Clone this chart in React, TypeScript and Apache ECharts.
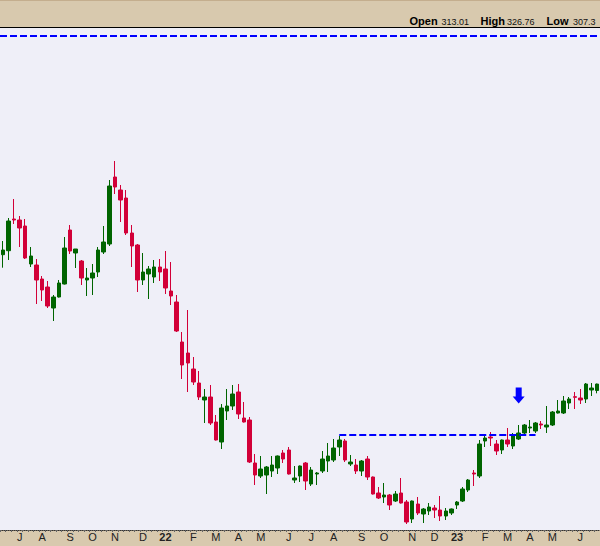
import React, { useEffect, useRef } from "react";
import * as echarts from "echarts";

// Weekly bars, first week starting Monday 2021-06-14
const FIRST_WEEK_UTC = Date.UTC(2021, 5, 14);

const OPEN = [
  584.6, 592.6, 656, 654, 642, 566, 564, 536, 520, 478,
  500, 526, 634, 588, 572, 534, 538, 550, 590, 606,
  740, 714, 698, 628, 604, 534, 546, 540, 560, 556,
  512, 490, 410, 388, 356, 328, 294, 300, 250, 210,
  272, 282, 310, 258, 254, 168, 142, 144, 152, 158,
  188, 194, 134, 142, 168, 126, 146, 152, 172, 174,
  200, 212, 166, 164, 152, 176, 140, 108, 100, 104,
  92, 108, 90, 56, 86, 66, 72, 78, 74, 62,
  68, 84, 92, 114, 148, 142, 212, 220, 206, 194,
  214, 202, 216, 228, 238, 232, 246, 240, 244, 268,
  268, 288, 300.6, 298, 296, 314, 313.01,
];
const CLOSE = [
  594, 652, 654, 638, 578, 582, 534, 514, 482, 500,
  528, 598, 592, 596, 538, 538, 548, 594, 610, 722,
  720, 694, 628, 602, 534, 550, 556, 560, 550, 518,
  502, 432, 364, 368, 330, 300, 300, 248, 214, 278,
  282, 306, 266, 250, 170, 144, 156, 160, 164, 182,
  176, 146, 138, 162, 132, 154, 148, 176, 182, 198,
  214, 174, 170, 152, 172, 140, 106, 98, 104, 84,
  106, 88, 50, 92, 68, 76, 80, 74, 62, 72,
  76, 90, 116, 134, 146, 206, 218, 218, 192, 214,
  206, 224, 228, 244, 240, 248, 244, 244, 270, 272,
  292, 296, 299.4, 294, 326, 318, 325.9,
];
const LOW = [
  558.6, 574, 646, 600, 576, 560, 486, 492, 478, 452,
  499, 525, 586, 558, 524, 502, 504, 540, 586, 602,
  706, 650, 624, 560, 510, 524, 496, 528, 532, 506,
  484, 430, 336, 310, 324, 294, 248, 244, 213, 196,
  254, 274, 256, 249, 168, 124, 138, 106, 140, 146,
  168, 145, 128, 130, 114, 122, 124, 148, 150, 170,
  182, 170, 162, 146, 142, 134, 105, 96, 88, 74,
  90, 87, 46, 48, 64, 48, 64, 58, 52, 54,
  64, 76, 90, 110, 122, 138, 200, 202, 184, 186,
  200, 196, 214, 226, 228, 228, 236, 228, 242, 267,
  266, 276, 276, 286, 288, 302, 307.35,
];
const HIGH = [
  612, 658, 696, 662, 656, 600, 576, 542, 532, 504,
  534, 620, 644, 596, 574, 558, 566, 600, 642, 734,
  772, 724, 714, 644, 606, 588, 562, 574, 576, 592,
  570, 504, 430, 474, 380, 352, 316, 324, 264, 286,
  316, 324, 326, 290, 260, 186, 182, 162, 182, 183,
  194, 200, 162, 163, 170, 160, 150, 192, 208, 216,
  222, 216, 184, 176, 174, 182, 141, 120, 128, 106,
  112, 138, 94, 93, 100, 78, 88, 84, 102, 78,
  77, 92, 120, 136, 154, 214, 224, 230, 214, 215,
  238, 228, 244, 246, 254, 250, 252, 282, 272, 294,
  302, 300, 310, 316, 328, 328, 326.76,
];

// Annotations
const UPPER_LEVEL = 1022;
const BASE_LEVEL = 224;
const BASE_FROM_WEEK = 60;
const BASE_TO_WEEK = 95;
const ARROW_WEEK = 92;
const ARROW_PRICE = 303;

const HEADER_OPEN = "313.01";
const HEADER_HIGH = "326.76";
const HEADER_LOW = "307.3";

const MONTH_INITIALS = ["J", "F", "M", "A", "M", "J", "J", "A", "S", "O", "N", "D"];

const Y_MIN = 34;
const Y_MAX = 1038;

const FONT = "'Liberation Sans', Arial, sans-serif";
const GREEN = "#006400";
const RED = "#d20038";
const BLUE = "#0000ff";
const TAN = "#d8c9ae";
const PLOT_BG = "#efeff8";

const WEEKS: string[] = OPEN.map((_, i) =>
  new Date(FIRST_WEEK_UTC + i * 7 * 86400000).toISOString().slice(0, 10)
);

export default function App() {
  const ref = useRef<HTMLDivElement | null>(null);

  useEffect(() => {
    if (!ref.current) return;
    const chart = echarts.init(ref.current, null, { renderer: "svg" });
    const isMonthStart = (v: string) => Number(v.slice(8, 10)) <= 7;

    const label = (x: number, text: string) => ({
      type: "text",
      x,
      y: 21.4,
      style: { text, font: "bold 11px " + FONT, fill: "#000", verticalAlign: "middle" },
    });
    const value = (x: number, text: string) => ({
      type: "text",
      x,
      y: 22.1,
      style: { text, font: "9px " + FONT, fill: "#111", verticalAlign: "middle" },
    });

    chart.setOption({
      animation: false,
      backgroundColor: TAN,
      grid: {
        show: true,
        backgroundColor: PLOT_BG,
        borderWidth: 0,
        left: 0,
        top: 28,
        width: 602.8,
        bottom: 16,
        containLabel: false,
      },
      xAxis: {
        type: "category",
        data: WEEKS,
        boundaryGap: true,
        axisLine: { show: true, lineStyle: { color: "#333", type: "dotted", width: 1 } },
        axisTick: { show: true, interval: 0, length: 2, lineStyle: { color: "#666" } },
        splitLine: { show: false },
        axisLabel: {
          interval: (_i: number, v: string) => isMonthStart(v),
          margin: 1,
          fontSize: 11,
          fontFamily: FONT,
          color: "#222",
          formatter: (v: string) => {
            const m = Number(v.slice(5, 7));
            if (m === 1) return "{y|" + v.slice(2, 4) + "}";
            return MONTH_INITIALS[m - 1];
          },
          rich: {
            y: { fontSize: 11, fontWeight: "bold", fontFamily: FONT, color: "#222" },
          },
        },
      },
      yAxis: {
        type: "value",
        min: Y_MIN,
        max: Y_MAX,
        show: false,
        splitLine: { show: false },
      },
      series: [
        {
          type: "candlestick",
          data: OPEN.map((o, i) => [o, CLOSE[i], LOW[i], HIGH[i]]),
          barWidth: 4,
          itemStyle: {
            color: GREEN,
            color0: RED,
            borderColor: GREEN,
            borderColor0: RED,
            borderWidth: 1,
          },
          markLine: {
            silent: true,
            symbol: "none",
            label: { show: false },
            lineStyle: { color: BLUE, width: 2, type: [7, 3] },
            data: [
              { yAxis: UPPER_LEVEL },
              [
                { coord: [BASE_FROM_WEEK, BASE_LEVEL] },
                { coord: [BASE_TO_WEEK, BASE_LEVEL] },
              ],
            ],
          },
          markPoint: {
            silent: true,
            label: { show: false },
            data: [
              {
                coord: [ARROW_WEEK, ARROW_PRICE],
                symbol: "path://M3,0L9,0L9,9L12,9L6,16L0,9L3,9Z",
                symbolSize: [12, 16],
                itemStyle: { color: BLUE },
              },
            ],
          },
        },
      ],
      graphic: [
        { type: "line", shape: { x1: 0, y1: 0.5, x2: 600, y2: 0.5 }, style: { stroke: "#c4ae8e", lineWidth: 1 } },
        { type: "line", shape: { x1: 0, y1: 27.5, x2: 600, y2: 27.5 }, style: { stroke: "#000", lineWidth: 1 } },
        label(409.5, "Open"),
        value(441.5, HEADER_OPEN),
        label(480.5, "High"),
        value(507, HEADER_HIGH),
        label(546.5, "Low"),
        value(573, HEADER_LOW),
      ],
    });

    return () => chart.dispose();
  }, []);

  return (
    <div
      ref={ref}
      style={{ position: "absolute", left: 0, top: 0, width: 600, height: 546, overflow: "hidden" }}
    />
  );
}
